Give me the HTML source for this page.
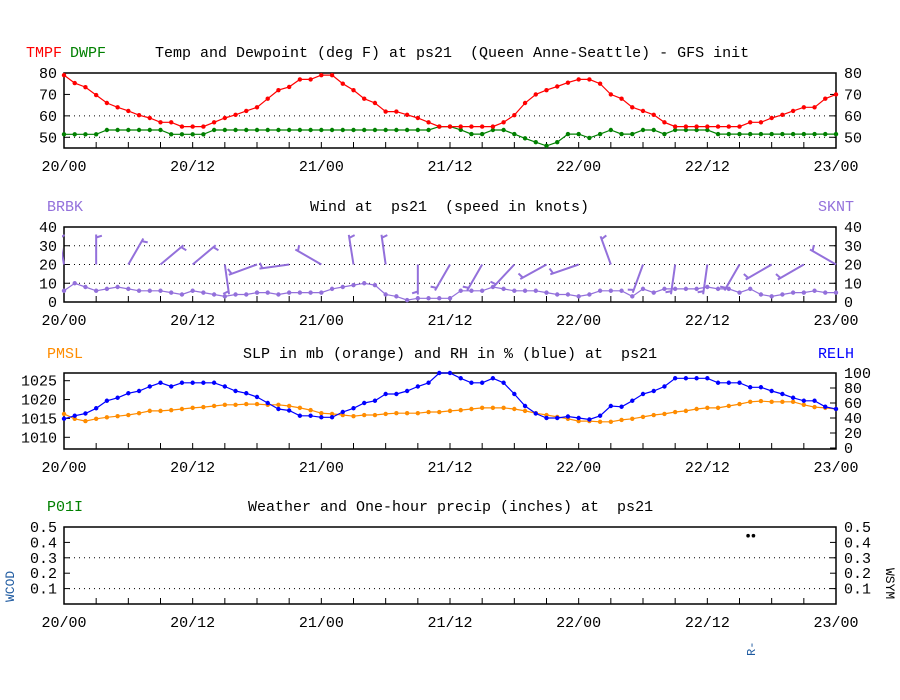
<!DOCTYPE html>
<html><head><meta charset="utf-8">
<style>
html,body{margin:0;padding:0;background:#fff;}
svg{display:block;font-family:"Liberation Mono","DejaVu Sans Mono",monospace;}
svg text{white-space:pre;}
</style></head>
<body>
<svg id="chart" width="900" height="700" viewBox="0 0 900 700" xmlns="http://www.w3.org/2000/svg" xml:space="preserve"></svg>
<script>
const timeLabels = ["20/00","20/12","21/00","21/12","22/00","22/12","23/00"];
const tmpf = [79,75.3,73.4,69.7,66,64,62.3,60.3,59,57,57,55,55,55,57,59,60.5,62.3,64,68,72,73.5,77,77,79,79,75,72,68,66,62,62,60.5,59,57,55,55,55,55,55,55,57,60.3,66,70,72,73.7,75.5,77,77,75,70,68,64,62.3,60.5,57,55,55,55,55,55,55,55,57,57,59,60.5,62.3,64,64,68,70];
const dwpf = [51.4,51.4,51.4,51.4,53.4,53.4,53.4,53.4,53.4,53.4,51.4,51.4,51.4,51.4,53.4,53.4,53.4,53.4,53.4,53.4,53.4,53.4,53.4,53.4,53.4,53.4,53.4,53.4,53.4,53.4,53.4,53.4,53.4,53.4,53.4,55,55,53.5,51.5,51.5,53.4,53.4,51.5,49.5,47.7,46,47.7,51.5,51.5,49.7,51.5,53.4,51.5,51.5,53.4,53.4,51.5,53.4,53.4,53.4,53.4,51.5,51.5,51.5,51.5,51.5,51.5,51.5,51.5,51.5,51.5,51.5,51.5];
const sknt = [6,10,8,6,7,8,7,6,6,6,5,4,6,5,4,3,4,4,5,5,4,5,5,5,5,7,8,9,10,9,4,3,1,2,2,2,2,6,6,6,8,7,6,6,6,5,4,4,3,4,6,6,6,3,7,5,7,7,7,7,8,7,7,5,7,4,3,4,5,5,6,5,5];
const wdir = [350,0,30,50,50,172,250,262,300,351,352,180,210,210,223,241,251,340,200,188,188,210,240,240,300];
const pmsl = [1016.2,1014.9,1014.3,1014.9,1015.3,1015.6,1015.9,1016.4,1017,1017,1017.2,1017.5,1017.8,1018,1018.3,1018.6,1018.6,1018.8,1018.8,1018.6,1018.6,1018.3,1017.8,1017.2,1016.4,1016.2,1015.9,1015.6,1015.9,1015.9,1016.2,1016.4,1016.4,1016.4,1016.7,1016.7,1017,1017.2,1017.5,1017.8,1017.8,1017.8,1017.5,1017,1016.4,1015.9,1015.4,1014.9,1014.3,1014.3,1014.1,1014.1,1014.6,1014.9,1015.4,1015.9,1016.2,1016.7,1017,1017.5,1017.8,1017.8,1018.3,1018.8,1019.4,1019.6,1019.4,1019.4,1019.4,1018.6,1018,1017.8,1017.5];
const relh = [39,43,46,53,63,67,73,76,82,87,82,87,87,87,87,82,76,73,68,60,52,50,43,43,41,41,48,53,60,63,72,72,76,82,87,100,100,93,87,87,93,87,72,56,46,40,40,42,40,38,43,56,55,63,72,76,82,93,93,93,93,87,87,87,81,81,76,72,67,63,63,55,52];
const precipTimes = [63.8,64.3];
const precipVals = [0.45,0.45];

const svg = document.getElementById('chart');
const NS = 'http://www.w3.org/2000/svg';
const X0 = 64, X1 = 836, NH = 72;
function xs(i){ return X0 + i*(X1-X0)/NH; }
function lin(d0,d1,r0,r1){ return v => r0 + (v-d0)*(r1-r0)/(d1-d0); }
function mk(tag, attrs, parent){ const e=document.createElementNS(NS,tag); for(const k in attrs) e.setAttribute(k,attrs[k]); (parent||svg).appendChild(e); return e; }
function txt(s,x,y,opt,name){
  const e=mk('text',{x:x,y:y,'font-size':opt.size||15,fill:opt.fill||'#000','text-anchor':opt.anchor||'start'});
  if(opt.transform) e.setAttribute('transform',opt.transform);
  e.textContent=s;
  
  
  return e;
}

function panel(p){
  const g = mk('g',{});
  
  
  p.grid.forEach(v=>{
    const y=p.yl(v);
    const l=mk('line',{x1:X0,x2:X1,y1:y,y2:y,stroke:'#000','stroke-width':1,'stroke-dasharray':'1,4'},g);
    
    
  });
  const b=mk('rect',{x:X0,y:p.top,width:X1-X0,height:p.bot-p.top,fill:'none',stroke:'#000','stroke-width':1.5},g);
  
  
  for(let h=3;h<NH;h+=3){
    const t=mk('line',{x1:xs(h),x2:xs(h),y1:p.bot,y2:p.bot-6,stroke:'#000','stroke-width':1},g);
    
    
  }
  timeLabels.forEach((s,k)=>{ txt(s,xs(k*12),p.bot+23,{anchor:'middle'},'x-tick-label'); });
  p.leftLabels.forEach(v=>{
    txt(p.lfmt(v),57,p.yl(v)+5,{anchor:'end'},'left-y-tick-label');
    const t=mk('line',{x1:X0,x2:X0+6,y1:p.yl(v),y2:p.yl(v),stroke:'#000'},g);
    
    
  });
  p.rightLabels.forEach(v=>{
    txt(p.rfmt(v),844,p.yr(v)+5,{},'right-y-tick-label');
    const t=mk('line',{x1:X1-6,x2:X1,y1:p.yr(v),y2:p.yr(v),stroke:'#000'},g);
    
    
  });
  return g;
}
function series(vals, ys, color, name){
  const pts = vals.map((v,i)=>xs(i).toFixed(1)+','+ys(v).toFixed(1)).join(' ');
  const pl = mk('polyline',{points:pts,fill:'none',stroke:color,'stroke-width':1.2});
  
  
  vals.forEach((v,i)=>{
    const c=mk('circle',{cx:xs(i),cy:ys(v),r:2.2,fill:color});
    
    
  });
}

const y1 = lin(45,80,148,73);
panel({name:'temp-panel',top:73,bot:148,yl:y1,yr:y1,grid:[50,60],leftLabels:[50,60,70,80],rightLabels:[50,60,70,80],lfmt:v=>v,rfmt:v=>v});
txt('TMPF',26,57,{fill:'#ff0000'},'tmpf-label');
txt('DWPF',70,57,{fill:'#008000'},'dwpf-label');
txt('Temp and Dewpoint (deg F) at ps21  (Queen Anne-Seattle) - GFS init',155,57,{},'temp-title');
series(dwpf,y1,'#008000','dewpoint');
series(tmpf,y1,'#ff0000','temperature');

const y2 = lin(0,40,302,227);
panel({name:'wind-panel',top:227,bot:302,yl:y2,yr:y2,grid:[10,20,30],leftLabels:[0,10,20,30,40],rightLabels:[0,10,20,30,40],lfmt:v=>v,rfmt:v=>v});
txt('BRBK',47,211,{fill:'#9370db'},'brbk-label');
txt('SKNT',818,211,{fill:'#9370db'},'sknt-label');
txt('Wind at  ps21  (speed in knots)',310,211,{},'wind-title');
series(sknt,y2,'#9370db','wind-speed');
const clip = mk('clipPath',{id:'wclip'});
mk('rect',{x:X0-2,y:227,width:X1-X0+4,height:75},clip);
const wg = mk('g',{'clip-path':'url(#wclip)'});


wdir.forEach((d,k)=>{
  const ax=xs(k*3), ay=y2(20), L=30, r=d*Math.PI/180;
  const ex=ax+L*Math.sin(r), ey=ay-L*Math.cos(r);
  const s=mk('line',{x1:ax,y1:ay,x2:ex,y2:ey,stroke:'#9370db','stroke-width':2},wg);
  
  
  const r2=r+Math.PI/2.5, bx=ex-3*Math.sin(r), by=ey+3*Math.cos(r);
  const t=mk('line',{x1:bx,y1:by,x2:bx+6*Math.sin(r2),y2:by-6*Math.cos(r2),stroke:'#9370db','stroke-width':2},wg);
  
  
});

const y3l = lin(1010,1025,437.3,380.7);
const y3r = lin(0,100,448,373);
panel({name:'slp-rh-panel',top:373,bot:449,yl:y3l,yr:y3r,grid:[],leftLabels:[1010,1015,1020,1025],rightLabels:[0,20,40,60,80,100],lfmt:v=>v,rfmt:v=>v});
txt('PMSL',47,358,{fill:'#ff8c00'},'pmsl-label');
txt('RELH',818,358,{fill:'#0000ff'},'relh-label');
txt('SLP in mb (orange) and RH in % (blue) at  ps21',243,358,{},'slp-title');
series(pmsl,y3l,'#ff8c00','slp');
series(relh,y3r,'#0000ff','rh');

const y4 = lin(0,0.5,604,527);
panel({name:'precip-panel',top:527,bot:604,yl:y4,yr:y4,grid:[0.1,0.3],leftLabels:[0.1,0.2,0.3,0.4,0.5],rightLabels:[0.1,0.2,0.3,0.4,0.5],lfmt:v=>v.toFixed(1),rfmt:v=>v.toFixed(1)});
txt('P01I',47,511,{fill:'#008000'},'p01i-label');
txt('Weather and One-hour precip (inches) at  ps21',248,511,{},'precip-title');
txt('WCOD',14,602,{fill:'#1e5aa0',size:13,transform:'rotate(-90 14 602)'},'wcod-label');
txt('WSYM',886,568,{fill:'#000',size:13,transform:'rotate(90 886 568)'},'wsym-label');
precipTimes.forEach((t,i)=>{
  const c=mk('circle',{cx:xs(t),cy:y4(precipVals[i])+1,r:1.8,fill:'#000'});
  
  
});
txt('R-',755,656,{fill:'#1e5aa0',size:12,transform:'rotate(-90 755 656)'},'weather-code-label');
</script>
</body></html>
